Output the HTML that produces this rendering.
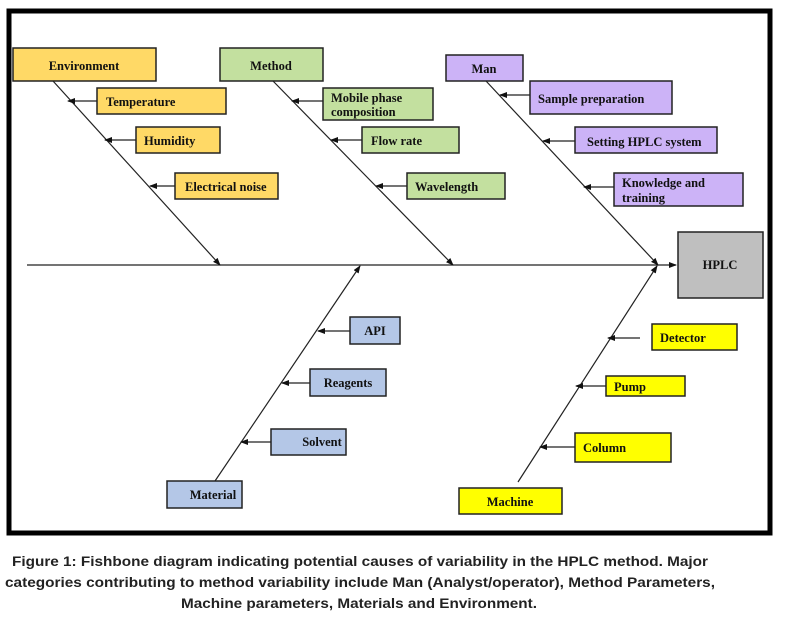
<!DOCTYPE html>
<html><head><meta charset="utf-8"><style>
body{margin:0;background:#fff;width:785px;height:618px;overflow:hidden}
svg text{font-family:"Liberation Serif",serif;font-weight:bold;font-size:12.5px;fill:#111}
.cap{font-family:"Liberation Sans",sans-serif;font-size:13.5px;font-weight:bold;fill:#222}
</style></head><body>
<svg width="785" height="618" viewBox="0 0 785 618" xmlns="http://www.w3.org/2000/svg">
<defs><marker id="a" markerWidth="8" markerHeight="6" refX="7" refY="3" orient="auto" markerUnits="userSpaceOnUse"><path d="M0,0 L8,3 L0,6 z" fill="#111"/></marker></defs>
<rect x="9" y="11" width="761" height="522" fill="none" stroke="#000" stroke-width="5"/>
<g stroke="#222" stroke-width="1.2" fill="none">
<line x1="27" y1="265" x2="676" y2="265" marker-end="url(#a)"/>
<line x1="53" y1="81" x2="220" y2="265" marker-end="url(#a)"/>
<line x1="273" y1="81" x2="453" y2="265" marker-end="url(#a)"/>
<line x1="486" y1="81" x2="658" y2="265" marker-end="url(#a)"/>
<line x1="215" y1="481" x2="360" y2="266" marker-end="url(#a)"/>
<line x1="518" y1="482" x2="657" y2="266" marker-end="url(#a)"/>
<line x1="97" y1="101" x2="68" y2="101" marker-end="url(#a)"/>
<line x1="136" y1="140" x2="105" y2="140" marker-end="url(#a)"/>
<line x1="175" y1="186" x2="150" y2="186" marker-end="url(#a)"/>
<line x1="323" y1="101" x2="292" y2="101" marker-end="url(#a)"/>
<line x1="362" y1="140" x2="331" y2="140" marker-end="url(#a)"/>
<line x1="407" y1="186" x2="376" y2="186" marker-end="url(#a)"/>
<line x1="530" y1="95" x2="500" y2="95" marker-end="url(#a)"/>
<line x1="575" y1="141" x2="543" y2="141" marker-end="url(#a)"/>
<line x1="614" y1="187" x2="584" y2="187" marker-end="url(#a)"/>
<line x1="350" y1="331" x2="318" y2="331" marker-end="url(#a)"/>
<line x1="310" y1="383" x2="282" y2="383" marker-end="url(#a)"/>
<line x1="271" y1="442" x2="241" y2="442" marker-end="url(#a)"/>
<line x1="640" y1="338" x2="608" y2="338" marker-end="url(#a)"/>
<line x1="606" y1="386" x2="576" y2="386" marker-end="url(#a)"/>
<line x1="575" y1="447" x2="540" y2="447" marker-end="url(#a)"/>
</g>
<g stroke="#222" stroke-width="1.5">
<rect x="13" y="48" width="143" height="33" fill="#ffd966"/>
<rect x="97" y="88" width="129" height="26" fill="#ffd966"/>
<rect x="136" y="127" width="84" height="26" fill="#ffd966"/>
<rect x="175" y="173" width="103" height="26" fill="#ffd966"/>
<rect x="220" y="48" width="103" height="33" fill="#c3e09f"/>
<rect x="323" y="88" width="110" height="32" fill="#c3e09f"/>
<rect x="362" y="127" width="97" height="26" fill="#c3e09f"/>
<rect x="407" y="173" width="98" height="26" fill="#c3e09f"/>
<rect x="446" y="55" width="77" height="26" fill="#ccb3f7"/>
<rect x="530" y="81" width="142" height="33" fill="#ccb3f7"/>
<rect x="575" y="127" width="142" height="26" fill="#ccb3f7"/>
<rect x="614" y="173" width="129" height="33" fill="#ccb3f7"/>
<rect x="678" y="232" width="85" height="66" fill="#bfbfbf"/>
<rect x="350" y="317" width="50" height="27" fill="#b4c7e7"/>
<rect x="310" y="369" width="76" height="27" fill="#b4c7e7"/>
<rect x="271" y="429" width="75" height="26" fill="#b4c7e7"/>
<rect x="167" y="481" width="75" height="27" fill="#b4c7e7"/>
<rect x="652" y="324" width="85" height="26" fill="#ffff00"/>
<rect x="606" y="376" width="79" height="20" fill="#ffff00"/>
<rect x="575" y="433" width="96" height="29" fill="#ffff00"/>
<rect x="459" y="488" width="103" height="26" fill="#ffff00"/>
</g>
<text x="84" y="70" text-anchor="middle">Environment</text>
<text x="106" y="106">Temperature</text>
<text x="144" y="145">Humidity</text>
<text x="185" y="191">Electrical noise</text>
<text x="271" y="70" text-anchor="middle">Method</text>
<text x="331" y="102">Mobile phase</text>
<text x="331" y="116">composition</text>
<text x="371" y="145">Flow rate</text>
<text x="415" y="191">Wavelength</text>
<text x="484" y="73" text-anchor="middle">Man</text>
<text x="538" y="103">Sample preparation</text>
<text x="587" y="146">Setting HPLC system</text>
<text x="622" y="187">Knowledge and</text>
<text x="622" y="202">training</text>
<text x="720" y="269" text-anchor="middle">HPLC</text>
<text x="375" y="335" text-anchor="middle">API</text>
<text x="348" y="387" text-anchor="middle">Reagents</text>
<text x="322" y="446" text-anchor="middle">Solvent</text>
<text x="213" y="499" text-anchor="middle">Material</text>
<text x="660" y="342">Detector</text>
<text x="614" y="391">Pump</text>
<text x="583" y="452">Column</text>
<text x="510" y="506" text-anchor="middle">Machine</text>
<text class="cap" x="12" y="566" textLength="696" lengthAdjust="spacingAndGlyphs">Figure 1: Fishbone diagram indicating potential causes of variability in the HPLC method. Major</text>
<text class="cap" x="5" y="587" textLength="710" lengthAdjust="spacingAndGlyphs">categories contributing to method variability include Man (Analyst/operator), Method Parameters,</text>
<text class="cap" x="181" y="608" textLength="356" lengthAdjust="spacingAndGlyphs">Machine parameters, Materials and Environment.</text>
</svg>
</body></html>
